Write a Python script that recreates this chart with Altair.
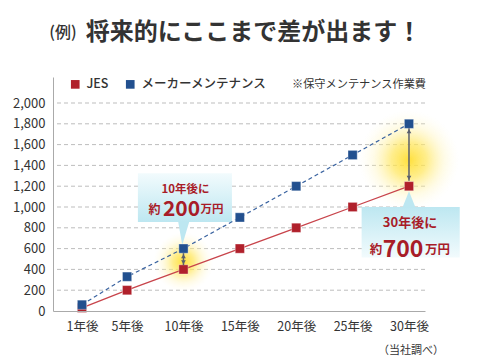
import altair as alt
import pandas as pd

# ---- data ----
years = [1, 5, 10, 15, 20, 25, 30]
jes = [30, 200, 400, 600, 800, 1000, 1200]
maker = [60, 330, 600, 900, 1200, 1500, 1800]
series_names = ["JES", "メーカーメンテナンス"]
y_ticks = [0, 200, 400, 600, 800, 1000, 1200, 1400, 1600, 1800, 2000]

# annotation anchors (data units)
glow_years = [10, 30]
glow_values = [470, 1450]
glow_sizes = [3600, 10000]

box_x = [5.96, 25.8]
box_x2 = [14.3, 34.5]
box_top = [1325, 1000]
box_bottom = [855, 515]

arrow_years = [10, 30]
arrow_top = [556, 1758]
arrow_bottom = [440, 1252]

RED = "#b0202b"
BLUE = "#22508f"
DARKRED = "#a81c28"
FONT = "Noto Sans CJK JP"
TXT = "#333333"

df = pd.DataFrame({
    "year": years * 2,
    "value": jes + maker,
    "series": [series_names[0]] * len(years) + [series_names[1]] * len(years),
})

x_scale = alt.Scale(domain=[-1.57, 31.42], nice=False, zero=False)
y_scale = alt.Scale(domain=[0, 2250], nice=False)

x_axis = alt.Axis(values=years, labelExpr="datum.value + '年後'", grid=False, ticks=False,
                  domainColor="#aaaaaa", labelFont=FONT, labelFontSize=12.5, labelColor=TXT,
                  labelPadding=9, title=None, zindex=1)
y_axis = alt.Axis(values=y_ticks, labelExpr="format(datum.value, ',')", grid=False,
                  ticks=False, domainColor="#aaaaaa", labelFont=FONT, labelFontSize=13,
                  labelColor=TXT, labelPadding=8, title=None, zindex=1)


def X(field="year:Q"):
    return alt.X(field, scale=x_scale, axis=x_axis)


def Y(field="value:Q"):
    return alt.Y(field, scale=y_scale, axis=y_axis)


# gridlines
grid_df = pd.DataFrame({"tick": y_ticks[1:]})
grid = alt.Chart(grid_df).mark_rule(color="#bdbdbd", strokeWidth=1, strokeDash=[4, 3],
                                    opacity=1).encode(y=Y("tick:Q"))

# glow
glow_df = pd.DataFrame({"year": glow_years, "value": glow_values, "size": glow_sizes})
glow = alt.Chart(glow_df).mark_point(
    shape="circle", filled=True, strokeWidth=0, opacity=1,
    fill=alt.Gradient(gradient="radial", x1=0.5, y1=0.5, x2=0.5, y2=0.5, r1=0, r2=0.5,
                      stops=[alt.GradientStop(offset=0, color="rgba(255,222,50,0.95)"),
                             alt.GradientStop(offset=0.35, color="rgba(255,230,90,0.7)"),
                             alt.GradientStop(offset=0.7, color="rgba(255,242,170,0.3)"),
                             alt.GradientStop(offset=1, color="rgba(255,250,220,0)")])
).encode(x=X(), y=Y(), size=alt.Size("size:Q", scale=None))

# callout boxes
b1 = pd.DataFrame({"x": [box_x[0]], "x2": [box_x2[0]], "y": [box_top[0]], "y2": [box_bottom[0]]})
b2 = pd.DataFrame({"x": [box_x[1]], "x2": [box_x2[1]], "y": [box_top[1]], "y2": [box_bottom[1]]})
box1 = alt.Chart(b1).mark_rect(
    fill=alt.Gradient(gradient="linear", x1=0, x2=0, y1=0, y2=1,
                      stops=[alt.GradientStop(offset=0, color="#f2fbfd"),
                             alt.GradientStop(offset=1, color="#bde7f1")])
).encode(x=X("x:Q"), x2="x2:Q", y=Y("y:Q"), y2="y2:Q")
box2 = alt.Chart(b2).mark_rect(
    fill=alt.Gradient(gradient="linear", x1=0, x2=0, y1=0, y2=1,
                      stops=[alt.GradientStop(offset=0, color="#bde7f1"),
                             alt.GradientStop(offset=1, color="#f2fbfd")])
).encode(x=X("x:Q"), x2="x2:Q", y=Y("y:Q"), y2="y2:Q")

p1 = pd.DataFrame({"year": [10], "value": [750]})
ptr1 = alt.Chart(p1).mark_point(
    shape="M -0.45 -1 L 0.5 -1 L -0.1 1 Z", size=576, filled=True, fill="#bde7f1",
    strokeWidth=0, opacity=1
).encode(x=X(), y=Y())
p2 = pd.DataFrame({"year": [30], "value": [1075]})
ptr2 = alt.Chart(p2).mark_point(
    shape="M 0 -1 L 0.8 1 L -0.8 1 Z", size=256, filled=True, fill="#bde7f1",
    strokeWidth=0, opacity=1
).encode(x=X(), y=Y())

# lines
line_jes = alt.Chart(df[df.series == series_names[0]]).mark_line(
    color="#c8444b", strokeWidth=1.3).encode(x=X(), y=Y())
line_maker = alt.Chart(df[df.series == series_names[1]]).mark_line(
    color="#3a63a0", strokeWidth=1.2, strokeDash=[4, 3]).encode(x=X(), y=Y())

points = alt.Chart(df).mark_point(
    shape="square", filled=True, size=85, stroke="white", strokeWidth=0.8, strokeOpacity=0.45,
    opacity=1
).encode(
    x=X(), y=Y(),
    color=alt.Color("series:N", scale=alt.Scale(domain=series_names, range=[RED, BLUE]),
                    legend=alt.Legend(orient="none", legendX=16, legendY=1, direction="horizontal",
                                      title=None, symbolType="square", symbolSize=75,
                                      symbolStrokeWidth=0, labelFont=FONT, labelFontSize=12.5,
                                      labelFontWeight=500, labelColor=TXT, columnPadding=15,
                                      labelOffset=5)),
)

# arrows
adf = pd.DataFrame({"year": arrow_years, "top": arrow_top, "bottom": arrow_bottom})
arrow_rule = alt.Chart(adf).mark_rule(color="#5a5f6e", strokeWidth=1.5).encode(
    x=X(), y=Y("top:Q"), y2="bottom:Q")
arrow_up = alt.Chart(adf).mark_point(shape="triangle-up", filled=True, size=22, color="#5a5f6e",
                                     opacity=1, yOffset=3).encode(x=X(), y=Y("top:Q"))
arrow_dn = alt.Chart(adf).mark_point(shape="triangle-down", filled=True, size=22, color="#5a5f6e",
                                     opacity=1, yOffset=-3).encode(x=X(), y=Y("bottom:Q"))


def label(year, value, text, size, dx=0, color=DARKRED, weight="bold"):
    d = pd.DataFrame({"year": [year], "value": [value], "t": [text]})
    return alt.Chart(d).mark_text(font=FONT, fontSize=size, fontWeight=weight, color=color,
                                  dx=dx, baseline="middle", align="center").encode(
        x=X(), y=Y(), text="t:N")


texts = [
    label(10, 1165, "10年後に", 11.5, dx=2),
    label(10, 972, "約", 12, dx=-29),
    label(10, 972, "200", 21, dx=-2),
    label(10, 972, "万円", 11.5, dx=28.5),
    label(30, 845, "30年後に", 13, dx=1),
    label(30, 590, "約", 12.5, dx=-33),
    label(30, 590, "700", 23, dx=-6),
    label(30, 590, "万円", 12.5, dx=28.5),
]


def pixel_text(x, y, text, size, weight="normal", color=TXT, align="center"):
    d = pd.DataFrame({"t": [text]})
    return alt.Chart(d).mark_text(font=FONT, fontSize=size, fontWeight=weight, color=color,
                                  baseline="middle", align=align).encode(
        x=alt.value(x), y=alt.value(y), text="t:N")


extra = [
    pixel_text(10, -44, "(例)", 16, weight=500),
    pixel_text(200.5, -44, "将来的にここまで差が出ます！", 24, weight="bold"),
    pixel_text(306, 8, "※保守メンテナンス作業費", 11.2),
    pixel_text(358, 274, "（当社調べ）", 11),
]

chart = alt.layer(
    grid, glow, box1, box2, ptr1, ptr2, line_maker, line_jes, points,
    arrow_rule, arrow_up, arrow_dn, *texts, *extra
).properties(
    width=372, height=234,
    padding={"left": 45, "top": 69, "right": 47, "bottom": 49},
    autosize=alt.AutoSizeParams(type="none"),
).configure_view(stroke=None)

chart.save("out.html", embed_options={"renderer": "svg", "actions": False})
